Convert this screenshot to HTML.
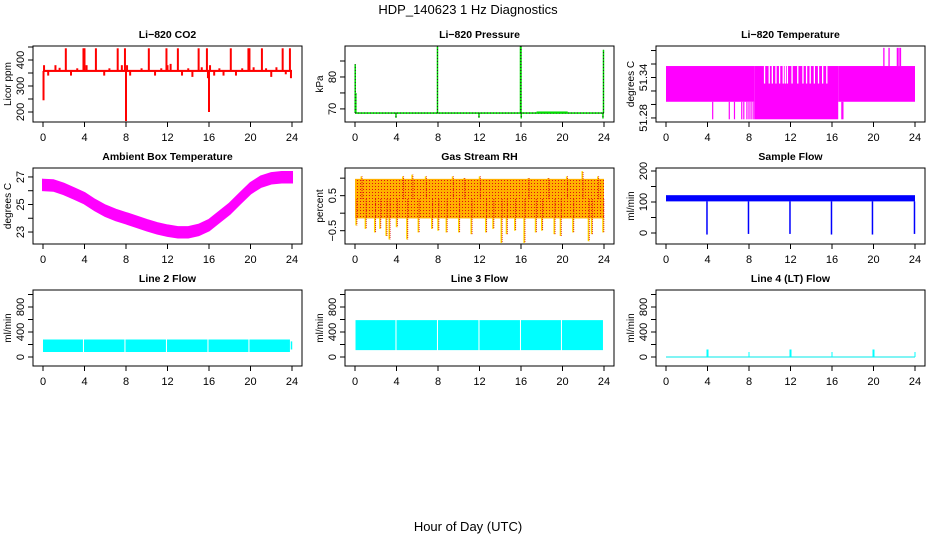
<!DOCTYPE html>
<html><head><meta charset="utf-8"><style>
html,body{margin:0;padding:0;background:#fff;}
svg{display:block;font-family:"Liberation Sans",Arial,sans-serif;}
</style></head><body>
<svg id="fig" width="936" height="540" viewBox="0 0 936 540" xmlns="http://www.w3.org/2000/svg">
<defs>
<pattern id="rhdots" width="3" height="3" patternUnits="userSpaceOnUse">
<rect width="3" height="3" fill="#ffb000"/><rect width="1" height="1" fill="#e01010"/>
</pattern>
</defs>
<text x="468" y="14" font-size="13" text-anchor="middle">HDP_140623  1 Hz Diagnostics</text>
<text x="468" y="531" font-size="13" text-anchor="middle">Hour of Day (UTC)</text>
</svg>
<script>
// ---- data ----
const xTicks = [0,4,8,12,16,20,24];
// CO2
const co2Base = 358;
const co2SpikeT = [0.05,0.1,0.5,1.2,1.6,2.2,2.7,3.3,3.9,4.0,4.2,5.1,5.9,6.4,7.2,7.6,7.9,8.0,8.1,8.4,9.5,10.2,10.8,11.4,11.9,12.0,12.3,13.0,13.4,14.0,14.4,15.0,15.3,15.8,15.9,16.0,16.1,16.5,17.0,17.4,18.1,18.6,19.2,19.8,19.9,20.3,21.1,21.5,22.0,22.5,23.1,23.4,23.8,23.9];
const co2SpikeV = [245,380,340,380,370,445,340,368,445,445,380,445,340,368,445,380,445,165,380,340,368,445,340,368,445,380,385,445,340,368,335,445,372,445,330,200,380,340,368,340,445,340,368,445,445,372,445,368,335,372,445,345,445,330];
// Pressure
const presBase = 68.7;
const presSpikeT = [0.02,0.08,3.95,7.95,11.95,15.95,16.0,16.02,23.9,23.95];
const presSpikeV = [84,75,67.2,89.5,67.2,89.6,89.6,67,67,88.5];
// Li-820 temperature
const tempBinStart = [0,8.5,16.6];
const tempBinEnd = [8.5,16.6,24];
const tempBinLo = [51.304,51.278,51.304];
const tempBinHi = [51.357,51.357,51.357];
const tempDownT = [4.5,6.1,6.6,7.3,7.5,7.8,8.0,8.2,8.4,16.95,17.05];
const tempGapT = [9.5,9.95,10.25,10.6,10.95,11.3,11.5,11.7,12.15,12.7,13.2,13.55,13.9,14.3,14.7,15.1,15.5];
const tempGapLo = 51.331;
const tempUpT = [21.0,21.5,22.3,22.45,22.6];
const tempUpV = [51.384,51.384,51.384,51.384,51.384];
// Ambient box temperature
const ambT = [0,1,2,3,4,5,6,7,8,9,10,11,12,13,14,15,16,17,18,19,20,21,22,23,24];
const ambV = [26.42,26.38,26.13,25.8,25.45,24.96,24.55,24.24,24.0,23.75,23.5,23.27,23.1,22.98,22.98,23.15,23.5,24.1,24.7,25.45,26.18,26.66,26.9,26.98,26.98];
const ambHalfWidth = 0.38;
// Gas stream RH
const rhLo = -0.15, rhHi = 0.98;
const rhSpikeT = [0.1,0.6,1.0,1.9,2.4,3.0,3.3,4.0,4.6,5.0,5.5,6.1,6.8,7.4,8.0,8.8,9.4,10.0,10.5,11.2,12.0,12.6,13.3,14.1,14.6,15.4,16.3,16.7,17.4,18.0,18.6,19.2,19.8,20.4,21.0,21.9,22.5,22.8,23.4,23.9];
const rhSpikeV = [-0.35,1.05,-0.45,-0.55,-0.45,-0.65,-0.75,-0.4,1.05,-0.75,1.1,-0.55,1.05,-0.45,-0.5,-0.55,1.05,-0.55,1.0,-0.6,1.05,-0.55,-0.45,-0.85,-0.6,-0.5,-0.85,1.0,-0.55,-0.5,1.0,-0.6,-0.65,1.05,-0.55,1.2,-0.8,-0.6,1.05,-0.55];
// Sample flow
const sfLo = 102, sfHi = 122;
const sfDipT = [3.95,7.95,11.95,15.95,19.9,23.95];
const sfDipV = [-5,-3,-3,-5,-5,-3];
// Line 2 flow
const l2SegStart = [0,3.95,7.95,11.95,15.95,19.9];
const l2SegEnd = [3.85,7.85,11.85,15.85,19.8,23.8];
const l2Lo = 80, l2Hi = 280;
// Line 3 flow
const l3SegStart = [0.05,4.0,8.0,12.0,16.0,19.95];
const l3SegEnd = [3.9,7.9,11.9,15.9,19.85,23.9];
const l3Lo = 110, l3Hi = 590;
// Line 4 flow
const l4SpikeT = [4,8,12,16,20,24];
const l4SpikeV = [120,80,120,80,120,80];

// ---- layout ----
const COLL=[33,345,656], ROWT=[46,168,290], W=269, H=76;
const NS="http://www.w3.org/2000/svg";
const svg=document.getElementById('fig');
function el(tag,parent){const e=document.createElementNS(NS,tag);parent.appendChild(e);return e;}
function X(p,t){return COLL[p.c]+10+t*(W-20)/24;}
function Y(p,v){return ROWT[p.r]+H*(p.ymax-v)/(p.ymax-p.ymin);}

const P = {
 co2:{c:0,r:0,ymin:161.5,ymax:453.8,title:"Li\u2212820 CO2",ylab:"Licor ppm",ticks:[200,250,300,350,400,450],labels:{200:"200",300:"300",400:"400"}},
 pres:{c:1,r:0,ymin:65.9,ymax:89.7,title:"Li\u2212820 Pressure",ylab:"kPa",ticks:[70,75,80,85],labels:{70:"70",80:"80"}},
 temp:{c:2,r:0,ymin:51.274,ymax:51.3867,title:"Li\u2212820 Temperature",ylab:"degrees C",ticks:[51.28,51.30,51.32,51.34,51.36,51.38],labels:{"51.28":"51.28","51.34":"51.34"}},
 amb:{c:0,r:1,ymin:22.13,ymax:27.65,title:"Ambient Box Temperature",ylab:"degrees C",ticks:[23,24,25,26,27],labels:{23:"23",25:"25",27:"27"}},
 rh:{c:1,r:1,ymin:-0.88,ymax:1.29,title:"Gas Stream RH",ylab:"percent",ticks:[-0.5,0,0.5,1],labels:{"-0.5":"\u22120.5","0.5":"0.5"}},
 sf:{c:2,r:1,ymin:-35.5,ymax:209.7,title:"Sample Flow",ylab:"ml/min",ticks:[0,50,100,150,200],labels:{0:"0",100:"100",200:"200"}},
 l2:{c:0,r:2,ymin:-144,ymax:1072,title:"Line 2 Flow",ylab:"ml/min",ticks:[0,200,400,600,800,1000],labels:{0:"0",400:"400",800:"800"}},
 l3:{c:1,r:2,ymin:-144,ymax:1072,title:"Line 3 Flow",ylab:"ml/min",ticks:[0,200,400,600,800,1000],labels:{0:"0",400:"400",800:"800"}},
 l4:{c:2,r:2,ymin:-144,ymax:1072,title:"Line 4 (LT) Flow",ylab:"ml/min",ticks:[0,200,400,600,800,1000],labels:{0:"0",400:"400",800:"800"}}
};

function vline(g,p,t,v0,v1,col,w){const l=el('line',g);l.setAttribute('x1',X(p,t));l.setAttribute('x2',X(p,t));l.setAttribute('y1',Y(p,v0));l.setAttribute('y2',Y(p,v1));l.setAttribute('stroke',col);l.setAttribute('stroke-width',w);return l;}
function band(g,p,t0,t1,v0,v1,fill){const r=el('rect',g);const y0=Y(p,v1),y1=Y(p,v0);r.setAttribute('x',X(p,t0));r.setAttribute('width',Math.max(1,X(p,t1)-X(p,t0)));r.setAttribute('y',y0);r.setAttribute('height',Math.max(1,y1-y0));r.setAttribute('fill',fill);return r;}

function frame(key){
 const p=P[key]; const L=COLL[p.c], T=ROWT[p.r];
 const g=el('g',svg);
 
 
 const t=el('text',g);t.textContent=p.title;t.setAttribute('x',L+W/2);t.setAttribute('y',T-8);t.setAttribute('font-size','10.5');t.setAttribute('font-weight','bold');t.setAttribute('text-anchor','middle');
 
 
 const yl=el('text',g);yl.textContent=p.ylab;yl.setAttribute('font-size','10');yl.setAttribute('text-anchor','middle');
 yl.setAttribute('transform','translate('+(L-22)+','+(T+H/2)+') rotate(-90)');
 
 
 const xa=el('g',g);
 
 
 xTicks.forEach(v=>{const x=X(p,v);const l=el('line',xa);l.setAttribute('x1',x);l.setAttribute('x2',x);l.setAttribute('y1',T+H);l.setAttribute('y2',T+H+5);l.setAttribute('stroke','#000');
  const tx=el('text',xa);tx.textContent=String(v);tx.setAttribute('x',x);tx.setAttribute('y',T+H+19);tx.setAttribute('font-size','11');tx.setAttribute('text-anchor','middle');});
 const ya=el('g',g);
 
 
 p.ticks.forEach(v=>{const y=Y(p,v);const l=el('line',ya);l.setAttribute('x1',L-5);l.setAttribute('x2',L);l.setAttribute('y1',y);l.setAttribute('y2',y);l.setAttribute('stroke','#000');
  const lab=p.labels[String(v)]; if(lab){const tx=el('text',ya);tx.textContent=lab;tx.setAttribute('font-size','11');tx.setAttribute('text-anchor','middle');tx.setAttribute('transform','translate('+(L-9)+','+y+') rotate(-90)');}});
 const pl=el('g',g);
 
 
 return [g,pl,L,T];
}
function box(g,L,T,key){const r=el('rect',g);r.setAttribute('x',L);r.setAttribute('y',T);r.setAttribute('width',W);r.setAttribute('height',H);r.setAttribute('fill','none');r.setAttribute('stroke','#000');
 
 }

// CO2
(function(){const p=P.co2;const [g,s,L,T]=frame('co2');
 band(s,p,0,24,co2Base-4,co2Base+4,'#ff0000');
 co2SpikeT.forEach((t,i)=>vline(s,p,t,co2Base,co2SpikeV[i],'#ff0000',2));
 box(g,L,T,'co2');})();
// Pressure
(function(){const p=P.pres;const [g,s,L,T]=frame('pres');
 band(s,p,0,24,presBase-0.25,presBase+0.25,'#00dd00');
 const d=el('line',s);d.setAttribute('x1',X(p,0));d.setAttribute('x2',X(p,24));d.setAttribute('y1',Y(p,presBase));d.setAttribute('y2',Y(p,presBase));d.setAttribute('stroke','#222');d.setAttribute('stroke-dasharray','1,2');
 band(s,p,17.5,20.5,presBase,presBase+0.5,'#00dd00');
 presSpikeT.forEach((t,i)=>{vline(s,p,t,presBase,presSpikeV[i],'#00dd00',1.5);const l=vline(s,p,t,presBase,presSpikeV[i],'#222',1);l.setAttribute('stroke-dasharray','1,2');});
 box(g,L,T,'pres');})();
// Li-820 Temperature
(function(){const p=P.temp;const [g,s,L,T]=frame('temp');
 const m='#ff00ff';
 tempBinStart.forEach((t,i)=>band(s,p,t,tempBinEnd[i],tempBinLo[i],tempBinHi[i],m));
 tempDownT.forEach(t=>vline(s,p,t,51.304,51.278,m,1.2));
 tempGapT.forEach(t=>vline(s,p,t,tempGapLo,51.357,'#ffffff',1.3));
 tempUpT.forEach((t,i)=>vline(s,p,t,51.357,tempUpV[i],m,1.3));
 box(g,L,T,'temp');})();
// Ambient
(function(){const p=P.amb;const [g,s,L,T]=frame('amb');
 let d='';ambT.forEach((t,i)=>{d+=(i?'L':'M')+X(p,t)+','+Y(p,ambV[i]+ambHalfWidth);});
 for(let i=ambT.length-1;i>=0;i--){d+='L'+X(p,ambT[i])+','+Y(p,ambV[i]-ambHalfWidth);}
 const pa=el('path',s);pa.setAttribute('d',d+'Z');pa.setAttribute('fill','#ff00ff');pa.setAttribute('stroke','#ff00ff');pa.setAttribute('stroke-width','2');
 box(g,L,T,'amb');})();
// RH
(function(){const p=P.rh;const [g,s,L,T]=frame('rh');
 rhSpikeT.forEach((t,i)=>vline(s,p,t,0.4,rhSpikeV[i],'#ffdd00',1.5));
 band(s,p,0,24,rhLo,rhHi,'url(#rhdots)');
 rhSpikeT.forEach((t,i)=>{const l=vline(s,p,t+0.08,0.4,rhSpikeV[i],'#dd1010',1);l.setAttribute('stroke-dasharray','1,1');});
 box(g,L,T,'rh');})();
// Sample flow
(function(){const p=P.sf;const [g,s,L,T]=frame('sf');
 band(s,p,0,24,sfLo,sfHi,'#0000ff');
 sfDipT.forEach((t,i)=>vline(s,p,t,sfLo,sfDipV[i],'#0000ff',1.5));
 box(g,L,T,'sf');})();
// Line 2
(function(){const p=P.l2;const [g,s,L,T]=frame('l2');
 l2SegStart.forEach((t,i)=>band(s,p,t,l2SegEnd[i],l2Lo,l2Hi,'#00ffff'));
 vline(s,p,23.95,120,250,'#00ffff',1.5);
 box(g,L,T,'l2');})();
// Line 3
(function(){const p=P.l3;const [g,s,L,T]=frame('l3');
 l3SegStart.forEach((t,i)=>band(s,p,t,l3SegEnd[i],l3Lo,l3Hi,'#00ffff'));
 box(g,L,T,'l3');})();
// Line 4
(function(){const p=P.l4;const [g,s,L,T]=frame('l4');
 const l=el('line',s);l.setAttribute('x1',X(p,0));l.setAttribute('x2',X(p,24));l.setAttribute('y1',Y(p,0));l.setAttribute('y2',Y(p,0));l.setAttribute('stroke','#00e8e8');
 l4SpikeT.forEach((t,i)=>vline(s,p,t,0,l4SpikeV[i],'#00ffff',i%2===0?2:1));
 box(g,L,T,'l4');})();
</script>
</body></html>
